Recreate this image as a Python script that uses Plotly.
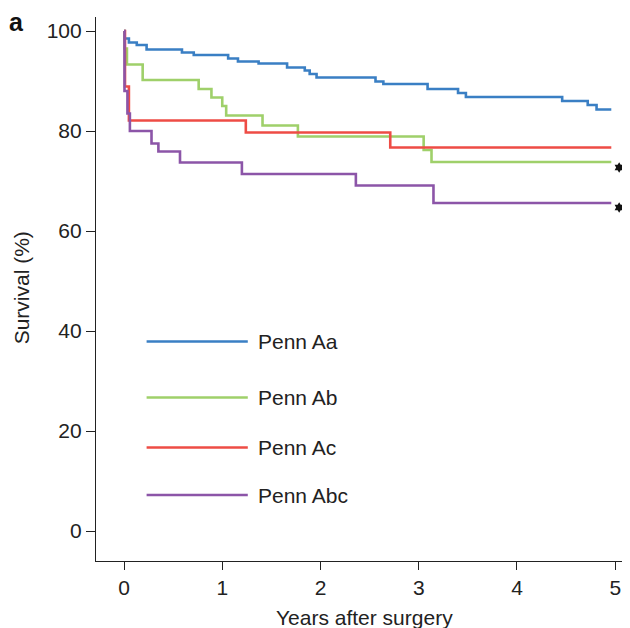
import plotly.graph_objects as go

# ---- data ----
aa_t = [0, 0.005, 0.05, 0.13, 0.23, 0.59, 0.71, 1.06, 1.16, 1.37, 1.66, 1.84, 1.89, 1.96, 2.56, 2.64, 3.09, 3.40, 3.48, 4.46, 4.72, 4.81, 4.96]
aa_s = [100, 98.5, 97.7, 97.2, 96.3, 95.7, 95.2, 94.5, 93.9, 93.5, 92.7, 92.1, 91.4, 90.7, 89.9, 89.4, 88.4, 87.6, 86.8, 86.0, 85.2, 84.3, 84.3]

ab_t = [0, 0.005, 0.03, 0.19, 0.76, 0.89, 1.0, 1.04, 1.41, 1.77, 3.05, 3.13, 4.96]
ab_s = [100, 96.5, 93.3, 90.2, 88.4, 86.7, 85.0, 83.1, 81.1, 78.9, 76.2, 73.8, 73.8]

ac_t = [0, 0.01, 0.05, 1.24, 2.71, 4.96]
ac_s = [100, 88.9, 82.1, 79.7, 76.7, 76.7]

abc_t = [0, 0.005, 0.035, 0.06, 0.28, 0.35, 0.57, 1.20, 2.36, 3.15, 4.96]
abc_s = [100, 88.0, 83.5, 80.0, 77.5, 75.9, 73.7, 71.4, 69.1, 65.6, 65.6]

series_names = ["Penn Aa", "Penn Ab", "Penn Ac", "Penn Abc"]
series_t = [aa_t, ab_t, ac_t, abc_t]
series_s = [aa_s, ab_s, ac_s, abc_s]
colors = ["#3a7fc4", "#9fd06a", "#ee4c45", "#8c55a8"]

legend_y = [37.9, 26.7, 16.7, 7.2]
legend_x0, legend_x1, legend_tx = 0.23, 1.26, 1.34

star_x = [5.04, 5.04]
star_y = [72.7, 64.7]

x_ticks = [0, 1, 2, 3, 4, 5]
y_ticks = [0, 20, 40, 60, 80, 100]

FONT = "Liberation Sans, Arial, sans-serif"
FS = 21

fig = go.Figure()
for name, t, s, c in zip(series_names, series_t, series_s, colors):
    fig.add_trace(go.Scatter(x=t, y=s, mode="lines", name=name,
                             line=dict(color=c, width=2.6, shape="hv"),
                             showlegend=False, hoverinfo="skip"))

fig.add_trace(go.Scatter(x=star_x, y=star_y, mode="markers", cliponaxis=False,
                         marker=dict(symbol="hexagram", size=8, color="#111111",
                                     line=dict(width=0)),
                         showlegend=False, hoverinfo="skip"))

# manual legend
for name, c, ly in zip(series_names, colors, legend_y):
    fig.add_shape(type="line", xref="x", yref="y", x0=legend_x0, x1=legend_x1,
                  y0=ly, y1=ly, line=dict(color=c, width=2.6))
    fig.add_annotation(x=legend_tx, y=ly, xref="x", yref="y", text=name,
                       showarrow=False, xanchor="left", yanchor="middle",
                       font=dict(family=FONT, size=FS, color="#222222"))

# axis titles and panel label
fig.add_annotation(x=-0.141, y=0.503, xref="paper", yref="paper", text="Survival (%)",
                   textangle=-90, showarrow=False, xanchor="center", yanchor="middle",
                   font=dict(family=FONT, size=FS, color="#222222"))
fig.add_annotation(x=0.505, y=-0.103, xref="paper", yref="paper", text="Years after surgery",
                   showarrow=False, xanchor="center", yanchor="middle",
                   font=dict(family=FONT, size=FS, color="#222222"))
fig.add_annotation(x=-0.150, y=0.990, xref="paper", yref="paper", text="<b>a</b>",
                   showarrow=False, xanchor="center", yanchor="middle",
                   font=dict(family=FONT, size=25, color="#111111"))

# page body adds an 8px offset; the figure is sized to fill the remaining window
fig.update_layout(
    width=622, height=620,
    margin=dict(l=88, r=2, t=9, b=67, autoexpand=False),
    paper_bgcolor="white", plot_bgcolor="white",
    font=dict(family=FONT, size=FS, color="#222222"),
)
fig.update_xaxes(range=[-0.285, 5.13], tickvals=x_ticks, ticks="outside", ticklen=8,
                 tickwidth=1.2, tickcolor="#222222", showline=True, linecolor="#222222",
                 linewidth=1.2, showgrid=False, zeroline=False, automargin=False,
                 tickfont=dict(family=FONT, size=FS, color="#222222"))
fig.update_yaxes(range=[-6, 102.8], tickvals=y_ticks, ticks="outside", ticklen=9,
                 tickwidth=1.2, tickcolor="#222222", showline=True, linecolor="#222222",
                 linewidth=1.2, showgrid=False, zeroline=False, automargin=False,
                 tickfont=dict(family=FONT, size=FS, color="#222222"))

fig.write_html("out.html")
